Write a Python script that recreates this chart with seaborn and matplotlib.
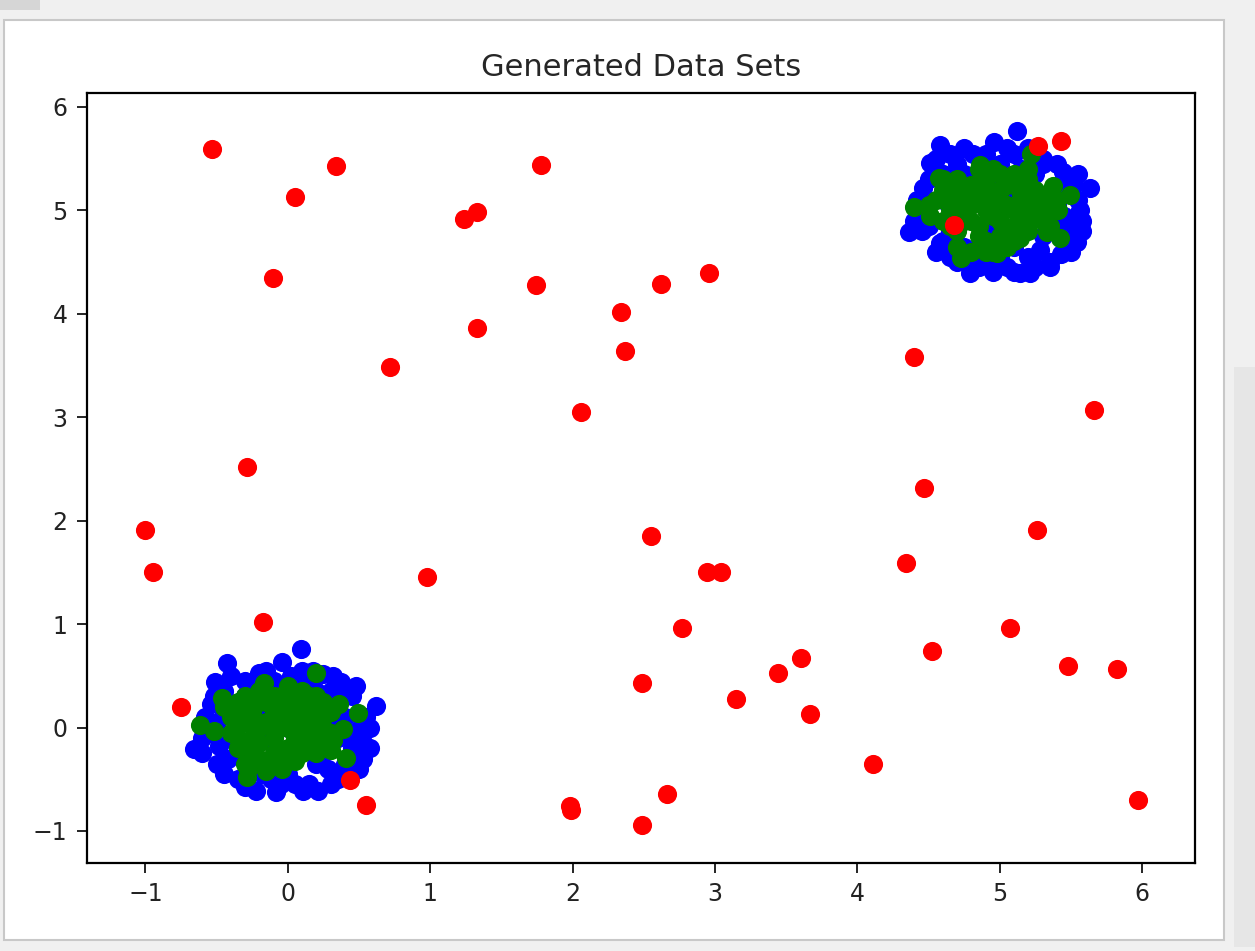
import matplotlib
matplotlib.use("Agg")
import matplotlib.pyplot as plt
import seaborn as sns
import pandas as pd
from matplotlib.patches import Rectangle

# Blue cluster around (0, 0) (hidden inner points estimated)
blue_a_x = [0.09, -0.43, -0.51, -0.04, -0.20, 0.62, -0.66, -0.22, 0.11, 0.21,
            0.53, 0.51, 0.37, -0.54, 0.25, 0.45, 0.52, 0.40, -0.05, -0.35,
            -0.50, -0.55, -0.45, -0.30, 0.10, 0.30, -0.12, 0.45, 0.55, -0.58,
            -0.30, 0.00, 0.20, 0.35, 0.35, 0.20, -0.10, -0.35, -0.35, 0.00,
            0.15, -0.15, -0.20, 0.10, 0.30, -0.40, 0.00, 0.25, -0.25, -0.10,
            -0.45, -0.15, 0.18, 0.32, 0.48, 0.58, 0.58, 0.50, 0.35, 0.15,
            -0.08, -0.30, -0.45, -0.60, -0.60, -0.50, -0.52, -0.40, 0.02, 0.40,
            0.45, 0.48, 0.28, -0.18, -0.42, -0.48, -0.42, -0.25, 0.30, 0.12,
            -0.05, 0.40, 0.05, -0.25, 0.40]
blue_a_y = [0.76, 0.62, 0.44, 0.63, 0.53, 0.21, -0.21, -0.61, -0.61, -0.61,
            -0.30, 0.00, 0.44, 0.23, 0.52, 0.30, -0.12, -0.45, -0.55, -0.50,
            -0.35, -0.05, 0.15, 0.45, 0.55, -0.55, -0.50, -0.20, 0.10, 0.10,
            0.30, 0.35, 0.35, 0.20, -0.10, -0.35, -0.35, -0.25, 0.05, 0.00,
            0.10, -0.10, 0.15, -0.20, 0.05, -0.10, -0.45, -0.25, -0.30, 0.45,
            0.35, 0.55, 0.55, 0.50, 0.40, 0.00, -0.20, -0.40, -0.50, -0.55,
            -0.62, -0.58, -0.45, -0.25, -0.10, 0.05, 0.30, 0.50, 0.50, 0.10,
            -0.05, -0.30, -0.40, -0.45, -0.30, -0.18, 0.25, 0.40, 0.35, 0.42,
            0.40, 0.35, -0.55, -0.42, -0.35]

# Blue cluster around (5, 5)
blue_b_x = [5.12, 4.58, 4.51, 5.63, 4.36, 4.79, 5.14, 5.21, 5.54, 5.43,
            5.56, 4.96, 4.81, 5.44, 4.46, 4.58, 4.91, 5.30, 5.50, 4.45,
            4.65, 5.05, 5.35, 4.70, 5.10, 4.50, 5.55, 5.25, 4.60, 5.00,
            4.70, 5.00, 5.20, 5.30, 5.30, 5.10, 4.85, 4.65, 4.70, 5.00,
            4.85, 5.15, 4.90, 5.10, 4.60, 5.40, 5.45, 4.80, 5.20, 4.90,
            4.65, 4.75, 4.90, 5.05, 5.20, 5.30, 5.45, 5.52, 5.58, 5.58,
            5.50, 5.35, 5.25, 5.10, 4.95, 4.85, 4.70, 4.55, 4.45, 4.40,
            4.42, 4.50, 4.55, 5.40, 4.60, 5.48, 5.00, 5.15, 4.75, 4.90,
            5.40, 5.40, 5.28, 4.75, 5.55]
blue_b_y = [5.77, 5.63, 5.46, 5.22, 4.79, 4.39, 4.39, 4.39, 4.69, 4.58,
            5.00, 5.66, 5.55, 5.37, 5.22, 4.68, 4.49, 5.50, 4.85, 5.00,
            4.55, 4.45, 4.50, 5.45, 5.55, 4.85, 5.10, 5.35, 5.35, 4.55,
            5.20, 5.30, 5.20, 5.00, 4.75, 4.65, 4.65, 4.80, 5.00, 5.00,
            5.10, 4.90, 4.85, 5.10, 5.10, 5.20, 4.95, 4.45, 4.55, 5.45,
            5.55, 5.60, 5.55, 5.60, 5.60, 5.45, 5.30, 5.25, 4.90, 4.80,
            4.60, 4.45, 4.45, 4.40, 4.40, 4.45, 4.50, 4.60, 4.80, 4.90,
            5.10, 5.30, 5.50, 5.45, 4.70, 4.70, 5.45, 5.40, 5.35, 5.35,
            4.85, 5.05, 4.62, 4.65, 5.35]

# Green cluster around (0, 0)
green_a_x = [0.20, -0.46, -0.62, 0.49, 0.39, 0.41, 0.30, -0.29, -0.04, -0.52,
             -0.17, 0.36, -0.30, -0.25, -0.35, -0.10, 0.05, 0.15, 0.25, 0.20,
             0.10, -0.10, -0.20, 0.00, -0.15, 0.10, 0.20, -0.05, 0.05, -0.35,
             0.30, 0.15, -0.10,
             -0.40, -0.40, -0.30, -0.30, -0.30, -0.20, -0.20, -0.20, -0.20, -0.10,
             -0.10, -0.10, 0.00, 0.00, 0.00, 0.10, 0.10, 0.10, 0.20, 0.20,
             0.25, 0.25, 0.30, -0.45, -0.35, 0.05, -0.15, -0.25,
             -0.35, -0.25, -0.15, -0.05, 0.05, 0.15, 0.15, 0.25, -0.05, -0.25,
             0.05, -0.35, 0.00, -0.28, 0.32]
green_a_y = [0.53, 0.29, 0.02, 0.145, -0.01, -0.29, -0.22, -0.48, -0.40, -0.03,
             0.43, 0.23, 0.20, -0.10, -0.20, 0.30, 0.30, 0.20, 0.10, -0.10,
             -0.25, -0.25, -0.30, 0.00, 0.05, 0.05, 0.30, 0.15, -0.10, 0.05,
             -0.05, -0.20, -0.10,
             0.10, -0.05, 0.30, 0.05, -0.35, 0.35, 0.25, 0.00, -0.15, 0.15,
             0.00, -0.35, 0.20, -0.20, 0.40, 0.35, 0.15, -0.10, 0.05, -0.25,
             0.25, -0.15, 0.15, 0.20, -0.10, -0.32, -0.42, 0.15,
             0.25, 0.05, 0.25, 0.30, 0.10, 0.00, 0.30, 0.00, -0.28, -0.22,
             -0.05, 0.15, 0.25, -0.40, -0.12]

# Green cluster around (5, 5)
green_b_x = [5.22, 4.57, 4.40, 4.51, 5.49, 5.41, 5.42, 5.33, 4.73, 4.98,
             4.86, 5.37, 5.14, 4.70, 4.75, 4.70, 4.85, 4.90, 5.00, 5.10,
             5.20, 5.25, 5.10, 4.95, 4.85, 5.05, 4.65, 5.00, 4.60, 5.30,
             4.80, 5.15, 4.95,
             4.60, 4.65, 4.70, 4.80, 4.80, 4.80, 4.90, 4.90, 4.90, 5.00,
             5.00, 5.00, 5.10, 5.10, 5.10, 5.20, 5.20, 5.20, 5.30, 5.30,
             5.25, 4.95, 4.55, 4.50, 5.40,
             4.70, 4.75, 4.75, 4.85, 4.95, 5.05, 5.05, 5.15, 5.15, 5.25,
             5.35, 4.65, 4.85, 5.20, 4.90, 5.05, 4.60, 5.35]
green_b_y = [5.55, 5.31, 5.03, 4.95, 5.15, 5.00, 4.73, 4.79, 4.54, 4.59,
             5.44, 5.24, 4.73, 5.20, 5.00, 4.80, 4.75, 5.30, 5.20, 5.25,
             5.10, 4.95, 4.85, 4.95, 5.10, 5.05, 5.10, 4.75, 4.90, 5.15,
             4.90, 5.00, 5.15,
             5.20, 5.00, 4.65, 5.25, 5.05, 4.60, 5.20, 5.00, 4.70, 5.35,
             5.10, 4.90, 5.35, 5.00, 4.70, 5.30, 4.95, 4.80, 5.05, 4.90,
             5.20, 4.60, 5.10, 5.05, 5.10,
             5.30, 5.15, 4.90, 4.85, 5.40, 5.25, 4.80, 5.15, 4.85, 5.05,
             5.00, 4.85, 5.40, 5.40, 4.60, 4.65, 5.30, 4.85]

# Red scattered points
red_x = [-0.53, 0.05, 0.34, 1.78, 1.24, 1.33, -0.105, 1.74, 2.96, 2.62,
         2.34, 1.33, 2.37, 0.72, 2.06, 4.40, 5.66, -0.29, 4.47, -1.00,
         -0.95, 0.98, 2.55, 5.26, 4.34, 2.94, 3.04, -0.175, 2.77, 5.07,
         4.52, -0.75, 2.49, 3.15, 3.44, 3.60, 3.67, 5.48, 5.82, 4.11,
         0.44, 0.55, 1.98, 1.99, 2.66, 2.49, 5.97, 4.68, 5.27, 5.43]
red_y = [5.59, 5.13, 5.43, 5.44, 4.92, 4.98, 4.35, 4.28, 4.39, 4.29,
         4.02, 3.86, 3.64, 3.49, 3.05, 3.58, 3.07, 2.52, 2.32, 1.91,
         1.50, 1.46, 1.85, 1.91, 1.59, 1.50, 1.50, 1.02, 0.96, 0.96,
         0.74, 0.20, 0.43, 0.28, 0.53, 0.67, 0.135, 0.59, 0.57, -0.35,
         -0.51, -0.745, -0.755, -0.80, -0.64, -0.94, -0.70, 4.855, 5.62, 5.67]

xticks = [-1, 0, 1, 2, 3, 4, 5, 6]
yticks = [-1, 0, 1, 2, 3, 4, 5, 6]

blue = pd.DataFrame({"x": blue_a_x + blue_b_x, "y": blue_a_y + blue_b_y})
green = pd.DataFrame({"x": green_a_x + green_b_x, "y": green_a_y + green_b_y})
red = pd.DataFrame({"x": red_x, "y": red_y})

sns.set_style("ticks")
plt.rcParams["font.family"] = ["DejaVu Sans"]

fig = plt.figure(figsize=(12.55, 9.51), dpi=100, facecolor="#f0f0f0")

# window canvas area of the screenshot (drawn behind the axes)
W, H = 1255, 951
fig.patches.append(Rectangle((4 / W, (H - 940) / H), 1220 / W, 920 / H,
                             transform=fig.transFigure, facecolor="white",
                             edgecolor="#c8c8c8", linewidth=1.5, zorder=-5))
fig.patches.append(Rectangle((0, (H - 10) / H), 40 / W, 10 / H,
                             transform=fig.transFigure, facecolor="#d6d6d6",
                             edgecolor="none", zorder=-5))
fig.patches.append(Rectangle((1234 / W, 4 / H), 21 / W, 580 / H,
                             transform=fig.transFigure, facecolor="#e6e6e6",
                             edgecolor="none", zorder=-5))

ax = fig.add_axes([87 / W, (H - 863) / H, 1108 / W, 770 / H])
ax.set_zorder(2)
ax.set_facecolor("white")

sns.scatterplot(data=blue, x="x", y="y", color="blue", s=190, linewidth=0, ax=ax)
sns.scatterplot(data=green, x="x", y="y", color="green", s=190, linewidth=0, ax=ax)
sns.scatterplot(data=red, x="x", y="y", color="red", s=190, linewidth=0, ax=ax)

ax.set_xlim(-1.41, 6.37)
ax.set_ylim(-1.31, 6.135)
ax.set_xticks(xticks)
ax.set_yticks(yticks)
ax.set_xlabel("")
ax.set_ylabel("")
ax.set_title("Generated Data Sets", fontsize=22, pad=12)

for side in ["top", "right", "bottom", "left"]:
    ax.spines[side].set_visible(True)
    ax.spines[side].set_linewidth(1.6)
    ax.spines[side].set_color("black")
ax.tick_params(axis="both", labelsize=17, length=7, width=1.2, pad=7,
               color="black", labelcolor="#222222", direction="out")

fig.savefig("out.png", dpi=100, facecolor=fig.get_facecolor())
